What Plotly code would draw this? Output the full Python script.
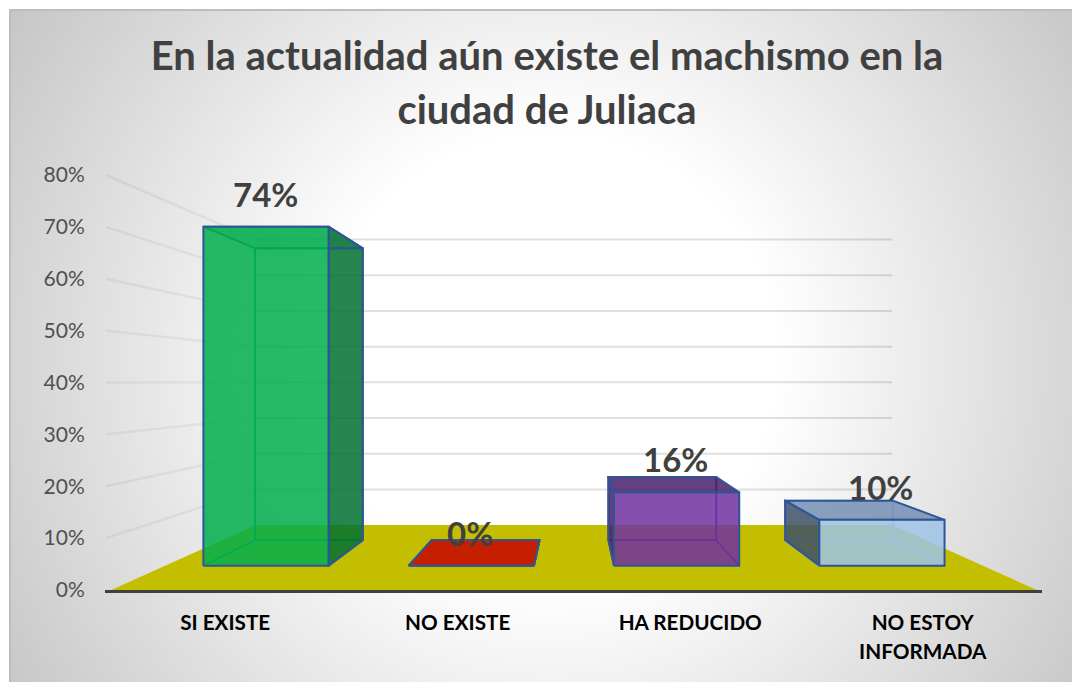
import base64
import plotly.graph_objects as go

# ---------- data ----------
categories = ["SI EXISTE", "NO EXISTE", "HA REDUCIDO", "NO ESTOY<br>INFORMADA"]
values = [74, 0, 16, 10]
y_ticks = [0, 10, 20, 30, 40, 50, 60, 70, 80]
title_lines = ["En la actualidad aún existe el machismo en la", "ciudad de Juliaca"]

# ---------- style ----------
front_fill = ["rgba(2,175,77,0.86)", "rgba(197,31,0,1)", "rgba(112,48,160,0.85)", "rgba(157,195,230,0.85)"]
side_fill = ["rgba(0,113,49,0.85)", "rgba(197,31,0,1)", "rgba(70,30,100,0.85)", "rgba(61,81,103,0.85)"]
top_fill = ["rgba(0,113,49,0.2)", "rgba(197,31,0,1)", "rgba(72,30,104,0.85)", "rgba(116,144,180,0.85)"]
inner_edge = ["rgba(0,150,85,0.9)", "rgba(47,85,151,1)", "rgba(85,50,165,0.9)", "rgba(125,170,225,0.9)"]
EDGE = "#2F5597"
FLOOR = "#C4BE00"
GRID_BACK = "rgba(0,0,0,0.12)"
GRID_SIDE = "rgba(0,0,0,0.05)"
FONT = "Lato"
W, H = 1072, 682

# perspective model, expressed in axis units
X_C, V_C = 1.5, 40.1        # vanishing point
S_WALL = 0.688              # back wall
S_BAR_FRONT, S_BAR_BACK = 0.883, 0.76
X_L, X_R = -0.49, 3.49      # floor extent
GRID_L = -0.513
BAR_HALF = 0.305
X_RANGE = [-0.517, 3.513]
Y_RANGE = [0, 80]
M = dict(l=105, r=30, t=175, b=92)


def P(x, v, s):
    return X_C + (x - X_C) * s, V_C + (v - V_C) * s


fig = go.Figure()


def poly(points, fill=None, line=None, width=2, closed=True):
    pts = list(points) + ([points[0]] if closed else [])
    fig.add_trace(go.Scatter(
        x=[p[0] for p in pts], y=[p[1] for p in pts], mode="lines",
        fill="toself" if fill else "none", fillcolor=fill,
        line=dict(color=line or "rgba(0,0,0,0)", width=width),
        hoverinfo="skip", showlegend=False, cliponaxis=False))


# walls
for v in y_ticks[1:]:
    poly([P(GRID_L, v, 1), P(X_L, v, S_WALL)], line=GRID_SIDE, width=2.5, closed=False)
    poly([P(X_L, v, S_WALL), P(X_R, v, S_WALL)], line=GRID_BACK, width=2, closed=False)
# floor
poly([P(X_L, 0, 1), P(X_R, 0, 1), P(X_R, 0, S_WALL), P(X_L, 0, S_WALL)], fill=FLOOR)

# bars
for i, v in enumerate(values):
    a, b = i - BAR_HALF, i + BAR_HALF
    f, k = S_BAR_FRONT, S_BAR_BACK
    # edges seen through the bar
    poly([P(a, 0, k), P(b, 0, k), P(b, v, k), P(a, v, k)], line=inner_edge[i])
    poly([P(a, 0, f), P(a, 0, k)], line=inner_edge[i], closed=False)
    poly([P(b, 0, f), P(b, 0, k)], line=inner_edge[i], closed=False)
    # visible side
    e = b if i < X_C else a
    poly([P(e, 0, f), P(e, 0, k), P(e, v, k), P(e, v, f)], fill=side_fill[i], line=EDGE)
    # top
    poly([P(a, v, f), P(b, v, f), P(b, v, k), P(a, v, k)], fill=top_fill[i], line=EDGE)
    # front
    poly([P(a, 0, f), P(b, 0, f), P(b, v, f), P(a, v, f)], fill=front_fill[i], line=EDGE)

# data labels
annotations = [
    dict(x=P(i, v, S_BAR_FRONT)[0], y=P(i, v, S_BAR_FRONT)[1], xref="x", yref="y",
         text=f"<b>{v}%</b>", showarrow=False, yshift=33, xshift=-1, yanchor="middle",
         font=dict(family=FONT, size=33, color="#404040"))
    for i, v in enumerate(values)
]

# background: radial gradient panel, with a thin edge on its top and left only
cx, cy = 550, 360
svg = (
    f'<svg xmlns="http://www.w3.org/2000/svg" width="{W}" height="{H}" viewBox="0 0 {W} {H}">'
    f'<defs><radialGradient id="g" gradientUnits="userSpaceOnUse" cx="{cx}" cy="{cy}" r="656">'
    '<stop offset="0.343" stop-color="#ffffff"/><stop offset="1" stop-color="#c4c4c4"/>'
    '</radialGradient></defs>'
    '<rect x="0" y="0" width="100%" height="100%" fill="#ffffff"/>'
    f'<rect x="10" y="10" width="1100" height="700" fill="url(#g)" stroke="#bdbdbd" stroke-width="2"/>'
    '</svg>'
)
bg = "data:image/svg+xml;base64," + base64.b64encode(svg.encode()).decode()
pw, ph = W - M["l"] - M["r"], H - M["t"] - M["b"]

fig.update_layout(
    width=W, height=H, margin=dict(**M, autoexpand=False),
    paper_bgcolor="white", plot_bgcolor="rgba(0,0,0,0)", showlegend=False,
    title=dict(
        text="<br>".join(f'<span style="font-size:40px"><b>{t}</b></span>' for t in title_lines),
        x=547 / W, xanchor="center", y=1 - 70 / H, yanchor="middle", yref="container",
        font=dict(family=FONT, size=41.5, color="#404040")),
    xaxis=dict(range=X_RANGE, tickmode="array", tickvals=list(range(len(categories))),
               ticktext=[f'<span style="font-size:20.7px"><b>{c}</b></span>'.replace(
                   "<br>", '</b></span><br><span style="font-size:20.7px"><b>') for c in categories],
               tickfont=dict(family=FONT, size=22.3, color="#000000"),
               ticks="outside", ticklen=10, tickcolor="rgba(0,0,0,0)",
               showline=True, linecolor="#404040", linewidth=3, showgrid=False, zeroline=False,
               fixedrange=True),
    yaxis=dict(range=Y_RANGE, tickmode="array", tickvals=y_ticks,
               ticktext=[f"{t}%" for t in y_ticks],
               tickfont=dict(family=FONT, size=21, color="#505050"),
               ticks="outside", ticklen=15, tickcolor="rgba(0,0,0,0)",
               showline=False, showgrid=False, zeroline=False, fixedrange=True),
    annotations=annotations,
    images=[dict(source=bg, xref="paper", yref="paper",
                 x=-M["l"] / pw, y=1 + M["t"] / ph, sizex=W / pw, sizey=H / ph,
                 xanchor="left", yanchor="top", sizing="stretch", layer="below")],
)

fig.write_html("out.html", config=dict(displayModeBar=False),
               post_script="document.body.style.margin='0';")
